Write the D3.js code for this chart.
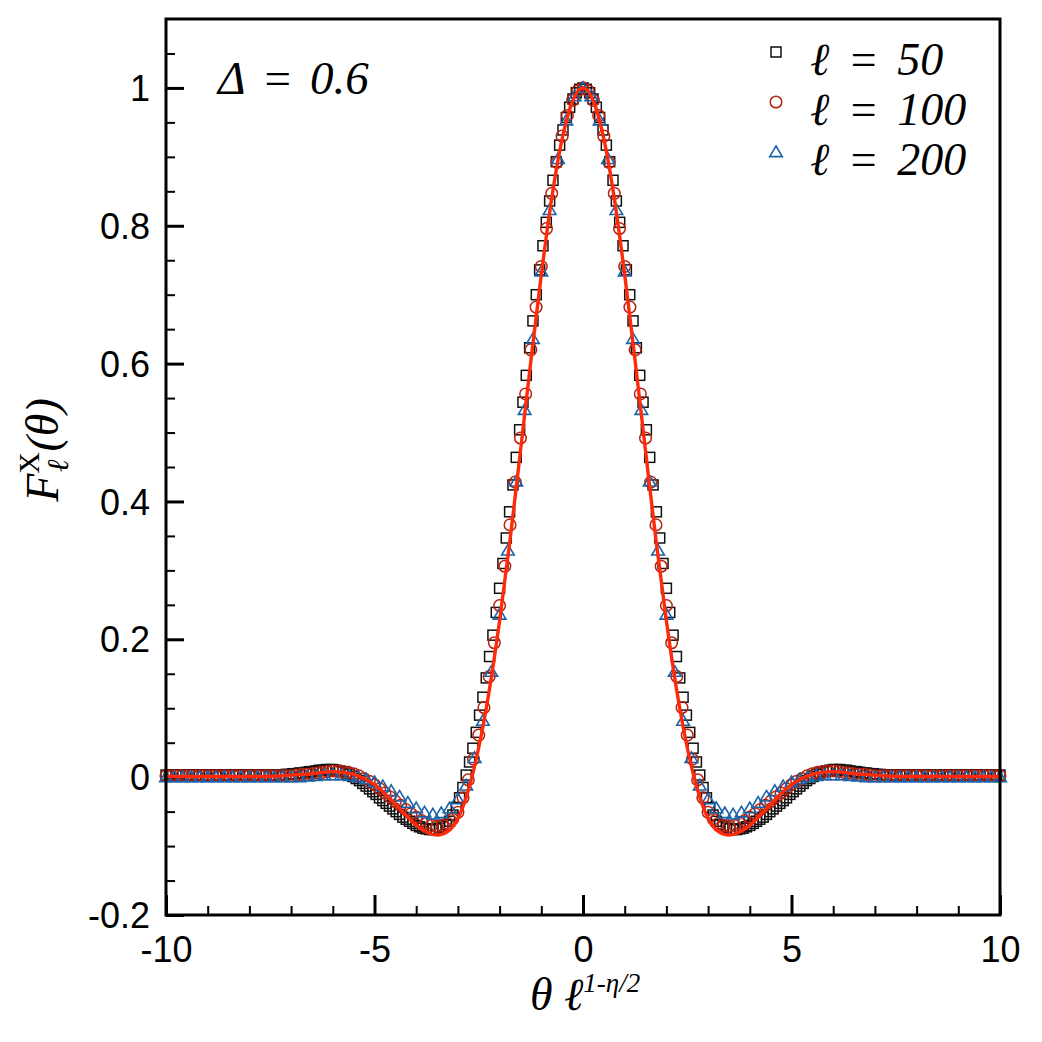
<!DOCTYPE html>
<html>
<head>
<meta charset="utf-8">
<script src="https://d3js.org/d3.v7.min.js"></script>
<style>
  body { margin: 0; background: #fff; }
  svg { display: block; }
</style>
</head>
<body>
<div id="chart"></div>
<script>
// data, x grid = x0 + i*step
var l50X0 = -10, l50Step = 0.08;
var l50Y = [
  0.003,0.003,0.003,0.003,0.003,0.003,0.003,0.003,0.003,0.003,0.003,0.003,
  0.003,0.003,0.003,0.003,0.003,0.003,0.003,0.003,0.003,0.003,0.003,0.003,
  0.003,0.003,0.003,0.003,0.003,0.003,0.003,0.003,0.003,0.003,0.003,0.003,
  0.004,0.004,0.005,0.005,0.006,0.006,0.007,0.008,0.008,0.009,
  0.010,0.010,0.011,0.011,0.011,0.010,0.009,0.008,0.006,0.004,
  0.001,-0.002,-0.005,-0.009,-0.013,-0.017,-0.021,-0.025,-0.030,-0.034,
  -0.038,-0.042,-0.046,-0.050,-0.054,-0.058,-0.061,-0.064,-0.067,-0.070,
  -0.072,-0.074,-0.075,-0.076,-0.076,-0.075,-0.074,-0.072,-0.069,-0.064,
  -0.055,-0.044,-0.030,-0.015,0.003,0.022,0.042,0.065,0.090,0.116,
  0.144,0.175,0.206,0.239,0.274,0.310,0.347,0.385,0.424,0.464,
  0.504,0.544,0.583,0.623,0.662,0.700,0.736,0.771,0.805,0.836,
  0.866,0.893,0.917,0.939,0.957,0.972,0.984,0.993,0.998,
  1.000,
  0.998,0.993,0.984,0.972,0.957,0.939,0.917,0.893,0.866,
  0.836,0.805,0.771,0.736,0.700,0.662,0.623,0.583,0.544,0.504,
  0.464,0.424,0.385,0.347,0.310,0.274,0.239,0.206,0.175,0.144,
  0.116,0.090,0.065,0.042,0.022,0.003,-0.015,-0.030,-0.044,-0.055,
  -0.064,-0.069,-0.072,-0.074,-0.075,-0.076,-0.076,-0.075,-0.074,-0.072,
  -0.070,-0.067,-0.064,-0.061,-0.058,-0.054,-0.050,-0.046,-0.042,-0.038,
  -0.034,-0.030,-0.025,-0.021,-0.017,-0.013,-0.009,-0.005,-0.002,0.001,
  0.004,0.006,0.008,0.009,0.010,0.011,0.011,0.011,0.010,0.010,
  0.009,0.008,0.008,0.007,0.006,0.006,0.005,0.005,0.004,0.004,
  0.003,0.003,0.003,0.003,0.003,0.003,0.003,0.003,0.003,0.003,0.003,0.003,
  0.003,0.003,0.003,0.003,0.003,0.003,0.003,0.003,0.003,0.003,0.003,0.003,
  0.003,0.003,0.003,0.003,0.003,0.003,0.003,0.003,0.003,0.003,0.003,0.003
];

var l100X0 = -10, l100Step = 0.125;
var l100Y = [
  0.002,0.002,0.002,0.002,0.002,0.002,0.002,0.002,0.002,0.002,0.002,0.002,0.002,
  0.002,0.002,0.002,0.002,0.002,0.002,0.002,0.002,0.002,0.002,0.002,0.002,
  0.003,0.004,0.004,0.005,0.006,0.007,0.008,0.009,0.009,0.008,
  0.007,0.005,0.002,-0.002,-0.006,-0.011,-0.017,-0.023,-0.029,-0.035,
  -0.041,-0.047,-0.053,-0.058,-0.063,-0.067,-0.070,-0.071,-0.070,-0.067,
  -0.061,-0.051,-0.030,-0.004,0.026,0.061,0.101,0.146,0.195,0.249,
  0.306,0.366,0.428,0.492,0.556,0.620,0.682,0.741,0.796,0.847,
  0.892,0.930,0.960,0.982,0.996,
  1.000,
  0.996,0.982,0.960,0.930,0.892,
  0.847,0.796,0.741,0.682,0.620,0.556,0.492,0.428,0.366,0.306,
  0.249,0.195,0.146,0.101,0.061,0.026,-0.004,-0.030,-0.051,-0.061,
  -0.067,-0.070,-0.071,-0.070,-0.067,-0.063,-0.058,-0.053,-0.047,-0.041,
  -0.035,-0.029,-0.023,-0.017,-0.011,-0.006,-0.002,0.002,0.005,0.007,
  0.008,0.009,0.009,0.008,0.007,0.006,0.005,0.004,0.004,0.003,
  0.002,0.002,0.002,0.002,0.002,0.002,0.002,0.002,0.002,0.002,0.002,0.002,0.002,
  0.002,0.002,0.002,0.002,0.002,0.002,0.002,0.002,0.002,0.002,0.002,0.002
];

var l200X0 = -10, l200Step = 0.2;
var l200Y = [
  0.000,0.000,0.000,0.000,0.000,0.000,0.000,0.000,0.000,
  0.000,0.000,0.000,0.000,0.000,0.000,0.000,0.000,
  0.001,0.002,0.003,0.003,0.003,0.002,0.000,-0.003,-0.007,-0.013,
  -0.020,-0.028,-0.037,-0.045,-0.051,-0.054,-0.052,-0.045,-0.032,-0.012,
  0.028,0.082,0.153,0.236,0.329,0.429,0.533,0.636,0.734,0.823,
  0.897,0.953,0.988,
  1.000,
  0.988,0.953,0.897,
  0.823,0.734,0.636,0.533,0.429,0.329,0.236,0.153,0.082,0.028,
  -0.012,-0.032,-0.045,-0.052,-0.054,-0.051,-0.045,-0.037,-0.028,-0.020,
  -0.013,-0.007,-0.003,0.000,0.002,0.003,0.003,0.003,0.002,0.001,
  0.000,0.000,0.000,0.000,0.000,0.000,0.000,0.000,0.000,
  0.000,0.000,0.000,0.000,0.000,0.000,0.000,0.000
];

// fitted curve (red line)
var fitX0 = -10, fitStep = 0.25;
var fitY = [
  0.001,0.001,0.001,0.001,0.001,0.001,0.001,0.001,0.001,0.001,0.001,
  0.002,0.003,0.004,0.005,0.007,0.008,0.007,0.004,-0.002,-0.011,
  -0.024,-0.039,-0.055,-0.070,-0.080,-0.084,-0.079,-0.060,-0.019,0.043,
  0.125,0.227,0.344,0.473,0.604,0.729,0.840,0.926,0.981,
  1.000,
  0.981,0.926,0.840,0.729,0.604,0.473,0.344,0.227,0.125,
  0.043,-0.019,-0.060,-0.079,-0.084,-0.080,-0.070,-0.055,-0.039,-0.024,
  -0.011,-0.002,0.004,0.007,0.008,0.007,0.005,0.004,0.003,0.002,
  0.001,0.001,0.001,0.001,0.001,0.001,0.001,0.001,0.001,0.001,0.001
];

var xTicks = [-10, -5, 0, 5, 10];
var xTickLabels = ["-10", "-5", "0", "5", "10"];
var yTicks = [-0.2, 0, 0.2, 0.4, 0.6, 0.8, 1];
var yTickLabels = ["-0.2", "0", "0.2", "0.4", "0.6", "0.8", "1"];
var legendLabels = ["\u2113 = 50", "\u2113 = 100", "\u2113 = 200"];
var annotation = "\u0394 = 0.6";

function toPoints(x0, step, ys) {
    return ys.map(function(v, i) { return {x: x0 + i * step, y: v}; });
}

var pts50 = toPoints(l50X0, l50Step, l50Y);
var pts100 = toPoints(l100X0, l100Step, l100Y);
var pts200 = toPoints(l200X0, l200Step, l200Y);
var ptsFit = toPoints(fitX0, fitStep, fitY);

var W = 1042, H = 1042;
var plotLeft = 166, plotRight = 1000, plotTop = 19, plotBottom = 915;

var svg = d3.select("#chart")
    .append("svg")
    .attr("width", W)
    .attr("height", H);

var x = d3.scaleLinear().domain([-10, 10]).range([plotLeft, plotRight]);
var y = d3.scaleLinear().domain([-0.2, 1.1]).range([plotBottom, plotTop]);

var sans = "'Liberation Sans', Arial, Helvetica, sans-serif";
var serif = "'Liberation Serif', 'Times New Roman', Times, serif";

// ticks (inward, bottom and left only)
var xAxis = d3.axisBottom(x).tickValues(xTicks).tickSizeInner(-20).tickSizeOuter(0)
    .tickFormat(function(d, i) { return xTickLabels[i]; });
var gx = svg.append("g")
    .attr("transform", "translate(0," + plotBottom + ")")
    .call(xAxis);
gx.select(".domain").remove();
gx.selectAll("line").attr("stroke", "#000").attr("stroke-width", 3);
gx.selectAll("text")
    .attr("y", 47)
    .attr("dy", 0)
    .style("font-family", sans)
    .style("font-size", "36px")
    .attr("fill", "#000");

var xMinor = svg.append("g")
    .attr("transform", "translate(0," + plotBottom + ")")
    .call(d3.axisBottom(x).tickValues(d3.range(-9, 10, 1).filter(function(d) { return d % 5 != 0; }))
        .tickSizeInner(-9).tickSizeOuter(0).tickFormat(""));
xMinor.select(".domain").remove();
xMinor.selectAll("line").attr("stroke", "#000").attr("stroke-width", 2);

var yAxis = d3.axisLeft(y).tickValues(yTicks).tickSizeInner(-18).tickSizeOuter(0)
    .tickFormat(function(d, i) { return yTickLabels[i]; });
var gy = svg.append("g")
    .attr("transform", "translate(" + plotLeft + ",0)")
    .call(yAxis);
gy.select(".domain").remove();
gy.selectAll("line").attr("stroke", "#000").attr("stroke-width", 3);
gy.selectAll("text")
    .attr("x", -16)
    .attr("dy", "0.35em")
    .style("font-family", sans)
    .style("font-size", "36px")
    .attr("fill", "#000");

var yMinorVals = [-0.15, -0.1, -0.05, 0.05, 0.1, 0.15, 0.25, 0.3, 0.35, 0.45, 0.5, 0.55,
                  0.65, 0.7, 0.75, 0.85, 0.9, 0.95, 1.05];
var yMinor = svg.append("g")
    .attr("transform", "translate(" + plotLeft + ",0)")
    .call(d3.axisLeft(y).tickValues(yMinorVals).tickSizeInner(-9).tickSizeOuter(0).tickFormat(""));
yMinor.select(".domain").remove();
yMinor.selectAll("line").attr("stroke", "#000").attr("stroke-width", 2);

// markers
var sq = 10;
svg.append("g").selectAll("rect")
    .data(pts50)
    .enter()
    .append("rect")
    .attr("x", function(d) { return x(d.x) - sq / 2; })
    .attr("y", function(d) { return y(d.y) - sq / 2; })
    .attr("width", sq)
    .attr("height", sq)
    .attr("fill", "none")
    .attr("stroke", "#111")
    .attr("stroke-width", 1.5);

svg.append("g").selectAll("circle")
    .data(pts100)
    .enter()
    .append("circle")
    .attr("cx", function(d) { return x(d.x); })
    .attr("cy", function(d) { return y(d.y); })
    .attr("r", 5.8)
    .attr("fill", "none")
    .attr("stroke", "#b5220f")
    .attr("stroke-width", 1.5);

var tri = "M0,-6L6.3,4.6L-6.3,4.6Z";
svg.append("g").selectAll("path")
    .data(pts200)
    .enter()
    .append("path")
    .attr("d", tri)
    .attr("transform", function(d) { return "translate(" + x(d.x) + "," + y(d.y) + ")"; })
    .attr("fill", "none")
    .attr("stroke", "#1b63a9")
    .attr("stroke-width", 1.6);

// fitted line
var line = d3.line()
    .x(function(d) { return x(d.x); })
    .y(function(d) { return y(d.y); })
    .curve(d3.curveMonotoneX);
svg.append("path")
    .datum(ptsFit)
    .attr("d", line)
    .attr("fill", "none")
    .attr("stroke", "#ff2a0a")
    .attr("stroke-width", 3.4);

// frame
svg.append("rect")
    .attr("x", plotLeft)
    .attr("y", plotTop)
    .attr("width", plotRight - plotLeft)
    .attr("height", plotBottom - plotTop)
    .attr("fill", "none")
    .attr("stroke", "#000")
    .attr("stroke-width", 3);

// legend
var legY = [52, 102, 152];
var leg = svg.append("g");
leg.append("rect").attr("x", 776 - sq / 2).attr("y", legY[0] - sq / 2).attr("width", sq).attr("height", sq)
    .attr("fill", "none").attr("stroke", "#111").attr("stroke-width", 1.5);
leg.append("circle").attr("cx", 776).attr("cy", legY[1]).attr("r", 5.8)
    .attr("fill", "none").attr("stroke", "#b5220f").attr("stroke-width", 1.5);
leg.append("path").attr("d", tri).attr("transform", "translate(776," + legY[2] + ")")
    .attr("fill", "none").attr("stroke", "#1b63a9").attr("stroke-width", 1.6);
leg.selectAll("text")
    .data(legendLabels)
    .enter()
    .append("text")
    .attr("x", 810)
    .attr("y", function(d, i) { return legY[i] + 23; })
    .style("font-family", serif)
    .style("font-style", "italic")
    .style("font-size", "46px")
    .style("word-spacing", "7px")
    .attr("fill", "#000")
    .text(function(d) { return d; });

// annotation
svg.append("text")
    .attr("x", 218)
    .attr("y", 94)
    .style("font-family", serif)
    .style("font-style", "italic")
    .style("font-size", "47px")
    .style("word-spacing", "5px")
    .attr("fill", "#000")
    .text(annotation);

// x title
var xt = svg.append("text")
    .attr("x", 530)
    .attr("y", 1010)
    .style("font-family", serif)
    .style("font-style", "italic")
    .style("font-size", "46px")
    .attr("fill", "#000");
xt.append("tspan").text("\u03b8 \u2113");
xt.append("tspan").attr("dy", -18).style("font-size", "27px").text("1-\u03b7/2");

// y title
var yt = svg.append("text")
    .attr("transform", "translate(58,450) rotate(-90)")
    .attr("text-anchor", "middle")
    .style("font-family", serif)
    .style("font-style", "italic")
    .style("font-size", "46px")
    .attr("fill", "#000");
yt.append("tspan").text("F");
yt.append("tspan").attr("dy", -19).style("font-size", "30px").style("font-style", "normal").text("X");
yt.append("tspan").attr("dx", -20).attr("dy", 29).style("font-size", "30px").text("\u2113");
yt.append("tspan").attr("dx", 8).attr("dy", -10).text("(\u03b8)");
</script>
</body>
</html>
